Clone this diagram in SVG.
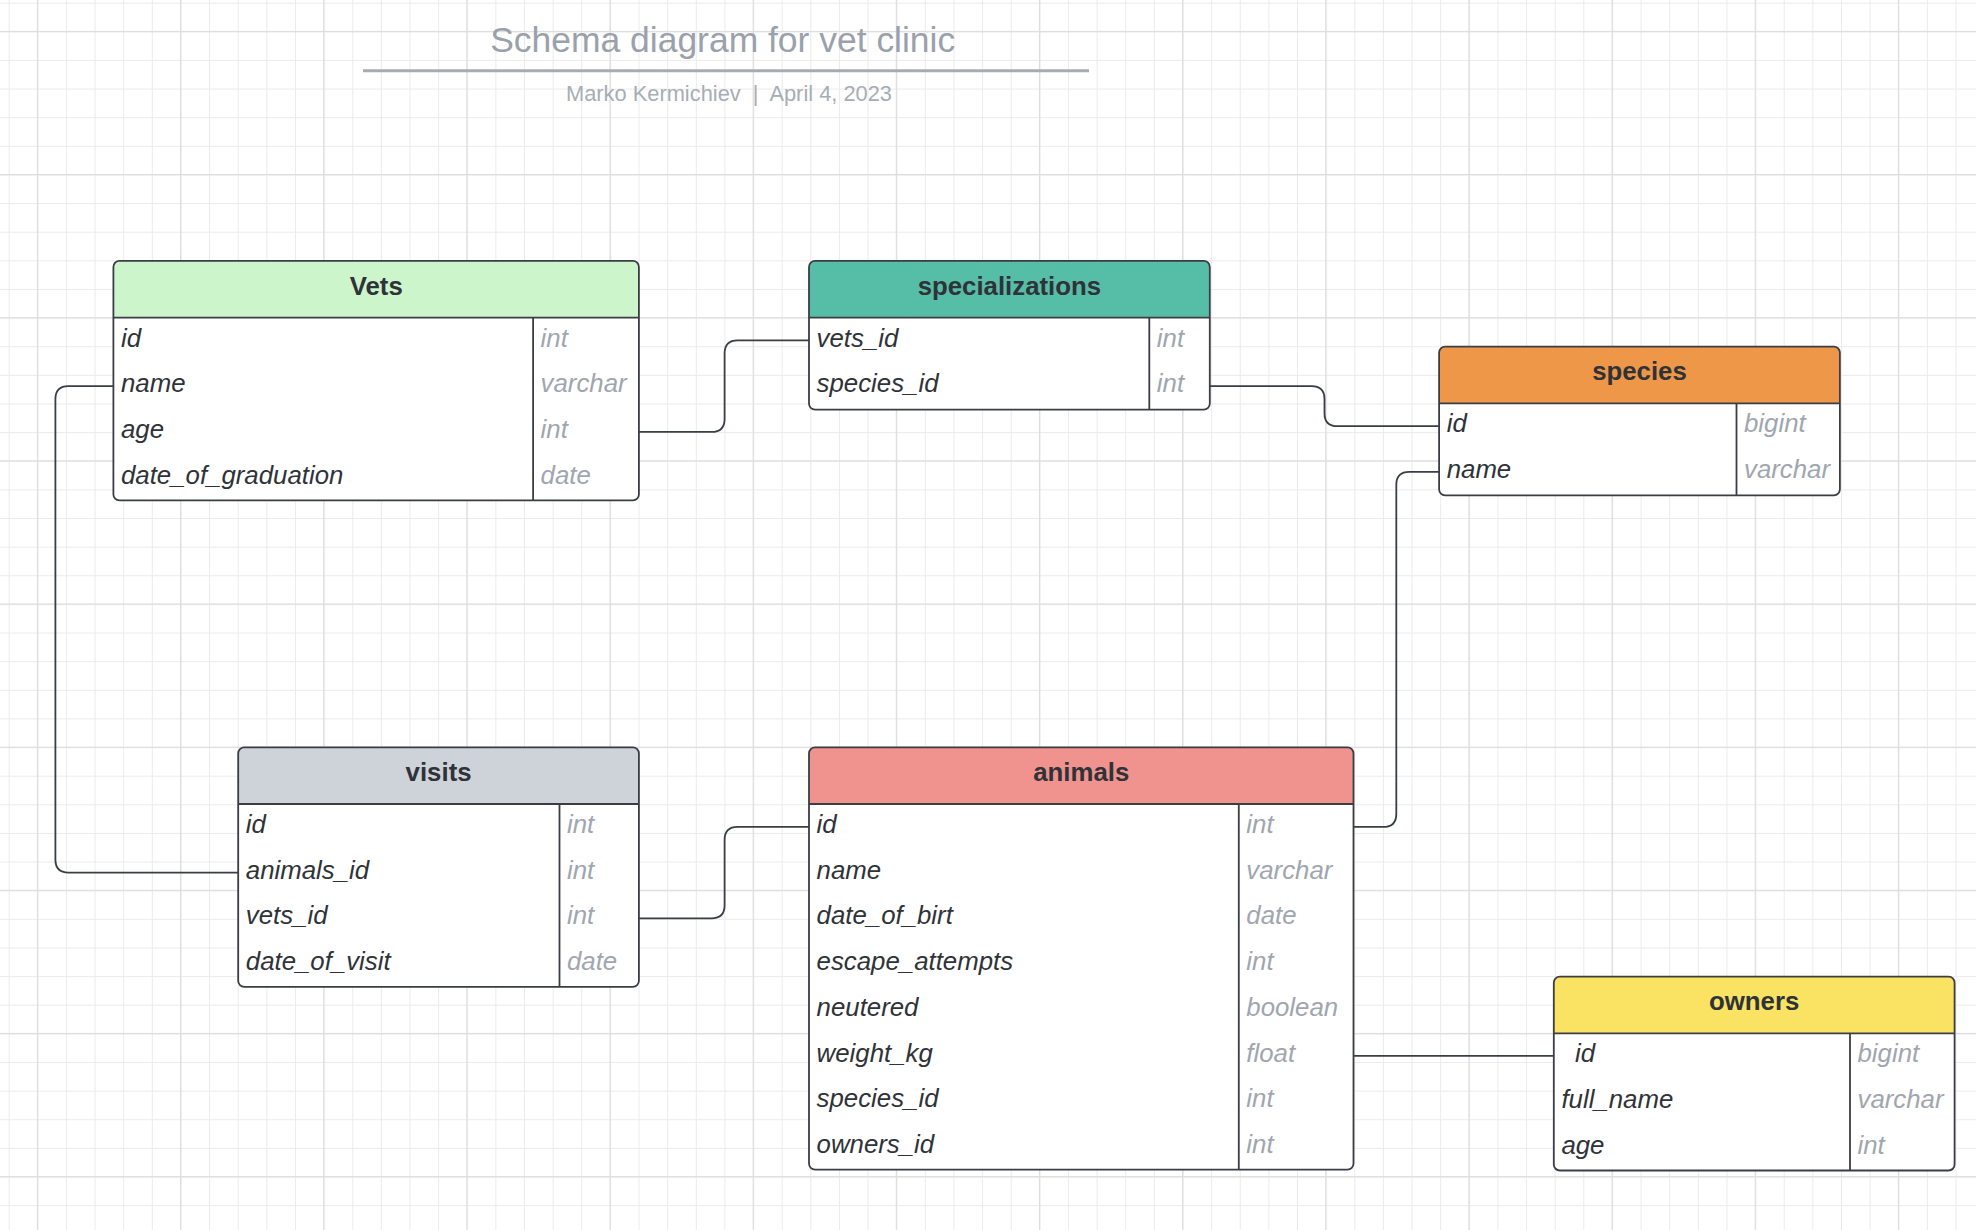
<svg xmlns="http://www.w3.org/2000/svg" width="1976" height="1230" viewBox="0 0 1976 1230">
<style>
.hdr{font-family:"Liberation Sans",Arial,sans-serif;font-size:25.8px;font-weight:bold;fill:#2f3338;text-anchor:middle}
.nm{font-family:"Liberation Sans",Arial,sans-serif;font-size:25.8px;font-style:italic;fill:#2f3338}
.ty{font-family:"Liberation Sans",Arial,sans-serif;font-size:25.8px;font-style:italic;fill:#a0a6af}
.body{fill:#ffffff;stroke:none}
.frame{fill:none;stroke:#3a3e44;stroke-width:1.8}
.sep{stroke:#3a3e44;stroke-width:1.8}
.conn{fill:none;stroke:#3a3f46;stroke-width:1.8}
</style>
<defs>
<pattern id="gminor" x="8.67" y="2.67" width="28.63" height="28.63" patternUnits="userSpaceOnUse">
<rect x="0" y="0" width="1" height="28.63" fill="#ebebeb"/>
<rect x="0" y="0" width="28.63" height="1" fill="#ebebeb"/>
</pattern>
<pattern id="gmajor" x="36.9" y="30.9" width="143.15" height="143.15" patternUnits="userSpaceOnUse">
<rect x="0" y="0" width="1.2" height="143.15" fill="#dddddd"/>
<rect x="0" y="0" width="143.15" height="1.2" fill="#dddddd"/>
</pattern>
</defs>
<rect x="0" y="0" width="1976" height="1230" fill="#ffffff"/>
<rect x="0" y="0" width="1976" height="1230" fill="url(#gminor)"/>
<rect x="0" y="0" width="1976" height="1230" fill="url(#gmajor)"/>

<g id="title">
<text x="722.7" y="52.3" font-family="Liberation Sans, Arial, sans-serif" font-size="34.4" fill="#9aa1ab" text-anchor="middle" textLength="465" lengthAdjust="spacingAndGlyphs">Schema diagram for vet clinic</text>
<line x1="363" y1="70.8" x2="1089" y2="70.8" stroke="#a7acb4" stroke-width="3"/>
<text x="729" y="101" font-family="Liberation Sans, Arial, sans-serif" font-size="21.5" fill="#a7adb5" text-anchor="middle" xml:space="preserve" textLength="326" lengthAdjust="spacingAndGlyphs">Marko Kermichiev  |  April 4, 2023</text>
</g>

<g id="connectors">
<path class="conn" d="M 638.9 431.9 H 711.6 Q 724.6 431.9 724.6 418.9 V 353.3 Q 724.6 340.3 737.6 340.3 H 809"/>
<path class="conn" d="M 1209.8 386.2 H 1311.5 Q 1324.5 386.2 1324.5 399.2 V 413.2 Q 1324.5 426.2 1337.5 426.2 H 1439.1"/>
<path class="conn" d="M 1439.1 471.9 H 1409.3 Q 1396.3 471.9 1396.3 484.9 V 813.9 Q 1396.3 826.9 1383.3 826.9 H 1353.5"/>
<path class="conn" d="M 113.4 386.2 H 68.4 Q 55.4 386.2 55.4 399.2 V 859.6 Q 55.4 872.6 68.4 872.6 H 238.2"/>
<path class="conn" d="M 638.9 918.3 H 711.6 Q 724.6 918.3 724.6 905.3 V 839.9 Q 724.6 826.9 737.6 826.9 H 809"/>
<path class="conn" d="M 1353.5 1055.8 H 1553.8"/>
</g>

<g id="vets">
<rect class="body" x="113.4" y="260.9" width="525.5" height="239.5" rx="6"/>
<path fill="#ccf5cc" d="M 113.4 317.6 V 266.9 Q 113.4 260.9 119.4 260.9 H 632.9 Q 638.9 260.9 638.9 266.9 V 317.6 Z"/>
<rect class="frame" x="113.4" y="260.9" width="525.5" height="239.5" rx="6"/>
<line class="sep" x1="113.4" y1="317.6" x2="638.9" y2="317.6"/>
<line class="sep" x1="533.1" y1="317.6" x2="533.1" y2="500.4"/>
<text class="hdr" x="376.2" y="294.6">Vets</text>
<text class="nm" x="121" y="346.6">id</text><text class="ty" x="540.6" y="346.6">int</text>
<text class="nm" x="121" y="392.3">name</text><text class="ty" x="540.6" y="392.3">varchar</text>
<text class="nm" x="121" y="438">age</text><text class="ty" x="540.6" y="438">int</text>
<text class="nm" x="121" y="483.7">date_of_graduation</text><text class="ty" x="540.6" y="483.7">date</text>
</g>

<g id="specializations">
<rect class="body" x="809" y="260.9" width="400.8" height="148.7" rx="6"/>
<path fill="#56bea7" d="M 809 317.6 V 266.9 Q 809 260.9 815 260.9 H 1203.8 Q 1209.8 260.9 1209.8 266.9 V 317.6 Z"/>
<rect class="frame" x="809" y="260.9" width="400.8" height="148.7" rx="6"/>
<line class="sep" x1="809" y1="317.6" x2="1209.8" y2="317.6"/>
<line class="sep" x1="1149.3" y1="317.6" x2="1149.3" y2="409.6"/>
<text class="hdr" x="1009.4" y="294.6">specializations</text>
<text class="nm" x="816.6" y="346.6">vets_id</text><text class="ty" x="1156.8" y="346.6">int</text>
<text class="nm" x="816.6" y="392.3">species_id</text><text class="ty" x="1156.8" y="392.3">int</text>
</g>

<g id="species">
<rect class="body" x="1439.1" y="346.6" width="400.8" height="148.7" rx="6"/>
<path fill="#ef9748" d="M 1439.1 403.3 V 352.6 Q 1439.1 346.6 1445.1 346.6 H 1833.9 Q 1839.9 346.6 1839.9 352.6 V 403.3 Z"/>
<rect class="frame" x="1439.1" y="346.6" width="400.8" height="148.7" rx="6"/>
<line class="sep" x1="1439.1" y1="403.3" x2="1839.9" y2="403.3"/>
<line class="sep" x1="1736.5" y1="403.3" x2="1736.5" y2="495.3"/>
<text class="hdr" x="1639.5" y="380.3">species</text>
<text class="nm" x="1446.7" y="432.3">id</text><text class="ty" x="1744" y="432.3">bigint</text>
<text class="nm" x="1446.7" y="478">name</text><text class="ty" x="1744" y="478">varchar</text>
</g>

<g id="visits">
<rect class="body" x="238.2" y="747.3" width="400.7" height="239.5" rx="6"/>
<path fill="#ced3da" d="M 238.2 804 V 753.3 Q 238.2 747.3 244.2 747.3 H 632.9 Q 638.9 747.3 638.9 753.3 V 804 Z"/>
<rect class="frame" x="238.2" y="747.3" width="400.7" height="239.5" rx="6"/>
<line class="sep" x1="238.2" y1="804" x2="638.9" y2="804"/>
<line class="sep" x1="559.5" y1="804" x2="559.5" y2="986.8"/>
<text class="hdr" x="438.6" y="781">visits</text>
<text class="nm" x="245.8" y="833">id</text><text class="ty" x="567" y="833">int</text>
<text class="nm" x="245.8" y="878.7">animals_id</text><text class="ty" x="567" y="878.7">int</text>
<text class="nm" x="245.8" y="924.4">vets_id</text><text class="ty" x="567" y="924.4">int</text>
<text class="nm" x="245.8" y="970.1">date_of_visit</text><text class="ty" x="567" y="970.1">date</text>
</g>

<g id="animals">
<rect class="body" x="809" y="747.3" width="544.5" height="422.3" rx="6"/>
<path fill="#f0938f" d="M 809 804 V 753.3 Q 809 747.3 815 747.3 H 1347.5 Q 1353.5 747.3 1353.5 753.3 V 804 Z"/>
<rect class="frame" x="809" y="747.3" width="544.5" height="422.3" rx="6"/>
<line class="sep" x1="809" y1="804" x2="1353.5" y2="804"/>
<line class="sep" x1="1238.8" y1="804" x2="1238.8" y2="1169.6"/>
<text class="hdr" x="1081.3" y="781">animals</text>
<text class="nm" x="816.6" y="833">id</text><text class="ty" x="1246.3" y="833">int</text>
<text class="nm" x="816.6" y="878.7">name</text><text class="ty" x="1246.3" y="878.7">varchar</text>
<text class="nm" x="816.6" y="924.4">date_of_birt</text><text class="ty" x="1246.3" y="924.4">date</text>
<text class="nm" x="816.6" y="970.1">escape_attempts</text><text class="ty" x="1246.3" y="970.1">int</text>
<text class="nm" x="816.6" y="1015.8">neutered</text><text class="ty" x="1246.3" y="1015.8">boolean</text>
<text class="nm" x="816.6" y="1061.5">weight_kg</text><text class="ty" x="1246.3" y="1061.5">float</text>
<text class="nm" x="816.6" y="1107.2">species_id</text><text class="ty" x="1246.3" y="1107.2">int</text>
<text class="nm" x="816.6" y="1152.9">owners_id</text><text class="ty" x="1246.3" y="1152.9">int</text>
</g>

<g id="owners">
<rect class="body" x="1553.8" y="976.7" width="400.8" height="193.8" rx="6"/>
<path fill="#fae262" d="M 1553.8 1033.4 V 982.7 Q 1553.8 976.7 1559.8 976.7 H 1948.6 Q 1954.6 976.7 1954.6 982.7 V 1033.4 Z"/>
<rect class="frame" x="1553.8" y="976.7" width="400.8" height="193.8" rx="6"/>
<line class="sep" x1="1553.8" y1="1033.4" x2="1954.6" y2="1033.4"/>
<line class="sep" x1="1850" y1="1033.4" x2="1850" y2="1170.5"/>
<text class="hdr" x="1754.2" y="1010.4">owners</text>
<text class="nm" x="1575" y="1062.4">id</text><text class="ty" x="1857.5" y="1062.4">bigint</text>
<text class="nm" x="1561.4" y="1108.1">full_name</text><text class="ty" x="1857.5" y="1108.1">varchar</text>
<text class="nm" x="1561.4" y="1153.8">age</text><text class="ty" x="1857.5" y="1153.8">int</text>
</g>
</svg>
